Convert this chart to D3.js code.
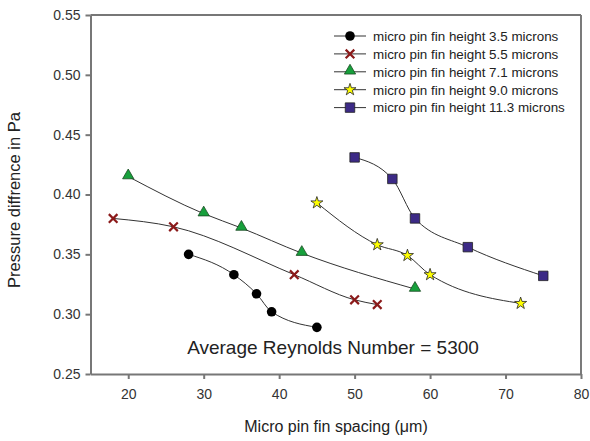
<!DOCTYPE html>
<html>
<head>
<meta charset="utf-8">
<script src="https://cdn.jsdelivr.net/npm/d3@7"></script>
<style>
  body { margin: 0; background: #fff; }
  svg { font-family: "Liberation Sans", Arial, sans-serif; }
</style>
</head>
<body>
<div id="chart"></div>
<script>
// series data
const h35x = [28, 34, 37, 39, 45]
const h35y = [0.350, 0.333, 0.317, 0.302, 0.289]
const h55x = [18, 26, 42, 50, 53]
const h55y = [0.380, 0.373, 0.333, 0.312, 0.308]
const h71x = [20, 30, 35, 43, 58]
const h71y = [0.415, 0.384, 0.372, 0.351, 0.321]
const h90x = [45, 53, 57, 60, 72]
const h90y = [0.393, 0.358, 0.349, 0.333, 0.309]
const h113x = [50, 55, 58, 65, 75]
const h113y = [0.431, 0.413, 0.380, 0.356, 0.332]

const seriesNames = ["micro pin fin height 3.5 microns", "micro pin fin height 5.5 microns",
  "micro pin fin height 7.1 microns", "micro pin fin height 9.0 microns", "micro pin fin height 11.3 microns"]
const xTicks = [20, 30, 40, 50, 60, 70, 80]
const yTicks = [0.25, 0.30, 0.35, 0.40, 0.45, 0.50, 0.55]

const W = 590, H = 441
const margin = {left: 90.5, right: 9, top: 15, bottom: 67}

const svg = d3.select("#chart").append("svg")
  .attr("width", W).attr("height", H)

const x = d3.scaleLinear().domain([15, 80]).range([margin.left, W - margin.right])
const y = d3.scaleLinear().domain([0.25, 0.55]).range([H - margin.bottom, margin.top])

const series = [
  {name: seriesNames[0], xs: h35x, ys: h35y, sym: "circle"},
  {name: seriesNames[1], xs: h55x, ys: h55y, sym: "cross"},
  {name: seriesNames[2], xs: h71x, ys: h71y, sym: "triangle"},
  {name: seriesNames[3], xs: h90x, ys: h90y, sym: "star"},
  {name: seriesNames[4], xs: h113x, ys: h113y, sym: "square"}
]

// frame
svg.append("line").attr("x1", x(80)).attr("x2", x(80)).attr("y1", y(0.55)).attr("y2", y(0.25))
  .style("stroke", "#222").style("stroke-width", 1.2)
svg.append("line").attr("x1", x(15)).attr("x2", x(80)).attr("y1", y(0.55)).attr("y2", y(0.55))
  .style("stroke", "#777").style("stroke-width", 2)

const xAxis = svg.append("g")
  .attr("transform", "translate(0," + y(0.25) + ")")
  .call(d3.axisBottom(x).tickValues(xTicks).tickSize(5).tickPadding(10).tickSizeOuter(0))
const yAxis = svg.append("g")
  .attr("transform", "translate(" + x(15) + ",0)")
  .call(d3.axisLeft(y).tickValues(yTicks).tickFormat(d3.format(".2f")).tickSize(5).tickPadding(5).tickSizeOuter(0))

;[xAxis, yAxis].forEach(a => {
  a.select(".domain").style("stroke", "#777").style("stroke-width", 2)
  a.selectAll(".tick line").style("stroke", "#777").style("stroke-width", 2)
  a.selectAll(".tick text").style("font-size", "14px").style("fill", "#333")
    .style("font-family", "'Liberation Sans', Arial, sans-serif")
})

// lines
const line = d3.line().x(d => x(d[0])).y(d => y(d[1])).curve(d3.curveMonotoneX)
series.forEach(s => {
  const pts = s.xs.map((v, i) => [v, s.ys[i]])
  svg.append("path").datum(pts).attr("d", line)
    .style("fill", "none").style("stroke", "#333").style("stroke-width", 1)
})

// symbols
function drawSym(g, sym, cx, cy) {
  if (sym === "circle") {
    g.append("circle").attr("cx", cx).attr("cy", cy).attr("r", 4.8).style("fill", "#000")
  } else if (sym === "cross") {
    g.append("path").attr("d", d3.symbol(d3.symbolX, 50)())
      .attr("transform", "translate(" + cx + "," + cy + ")")
      .style("stroke", "#8b1a1a").style("stroke-width", 2.2).style("fill", "none")
  } else if (sym === "triangle") {
    g.append("path").attr("d", d3.symbol(d3.symbolTriangle, 55)())
      .attr("transform", "translate(" + cx + "," + (cy - 1) + ")")
      .style("fill", "#17a03c").style("stroke", "#1a4a22").style("stroke-width", 0.8)
  } else if (sym === "star") {
    g.append("path").attr("d", d3.symbol(d3.symbolStar, 45)())
      .attr("transform", "translate(" + cx + "," + cy + ")")
      .style("fill", "#ffff00").style("stroke", "#222").style("stroke-width", 0.8)
  } else {
    g.append("path").attr("d", d3.symbol(d3.symbolSquare, 90)())
      .attr("transform", "translate(" + cx + "," + cy + ")")
      .style("fill", "#3c2a86").style("stroke", "#222").style("stroke-width", 0.8)
  }
}

series.forEach(s => {
  const g = svg.append("g")
  s.xs.forEach((v, i) => drawSym(g, s.sym, x(v), y(s.ys[i])))
})

// legend
const leg = svg.append("g")
series.forEach((s, i) => {
  const ly = 36 + i * 17.9
  leg.append("line").attr("x1", 334).attr("x2", 366).attr("y1", ly).attr("y2", ly)
    .style("stroke", "#333").style("stroke-width", 1)
  drawSym(leg, s.sym, 350, ly)
  leg.append("text").attr("x", 373).attr("y", ly + 4.8).text(s.name)
    .style("font-size", "13.4px").style("fill", "#222")
})

// annotation
svg.append("text").attr("x", 333).attr("y", 354).attr("text-anchor", "middle")
  .text("Average Reynolds Number = 5300")
  .style("font-size", "19px").style("fill", "#222")

// axis titles
svg.append("text").attr("x", 336).attr("y", 432).attr("text-anchor", "middle")
  .text("Micro pin fin spacing (μm)")
  .style("font-size", "16px").style("fill", "#222")
svg.append("text").attr("transform", "translate(20,200) rotate(-90)").attr("text-anchor", "middle")
  .text("Pressure diffrence in Pa")
  .style("font-size", "16.5px").style("fill", "#222")
</script>
</body>
</html>
